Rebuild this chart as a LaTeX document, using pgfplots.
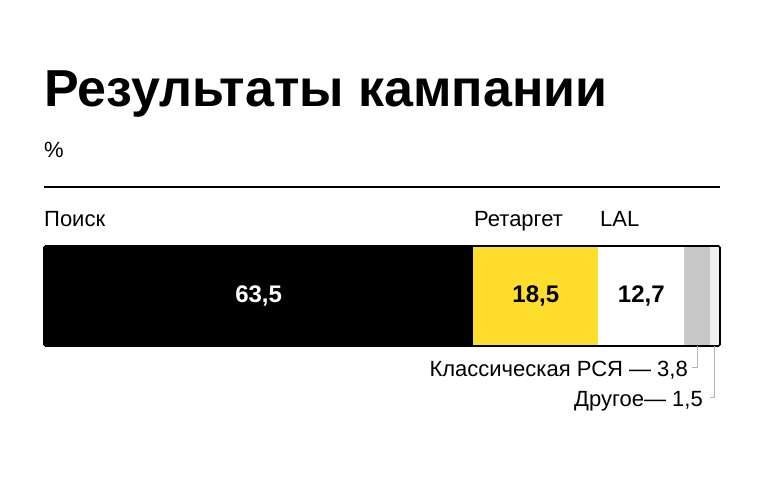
\documentclass[border=0pt]{standalone}
\usepackage{pgfplots}
\pgfplotsset{compat=1.18}
\usepackage{fontspec}
\setmainfont{Liberation Sans}
\newfontfamily\titlefont{Liberation Sans Bold}
\definecolor{ylw}{HTML}{FFDD2D}
\definecolor{gry}{HTML}{C8C8C8}
\definecolor{lgry}{HTML}{F0F0F0}
\definecolor{lead}{HTML}{B4B4B4}
\newcommand{\lbl}{\fontsize{22bp}{26bp}\selectfont}
\newcommand{\val}{\fontsize{24bp}{28bp}\selectfont\bfseries}
\begin{document}
\begin{tikzpicture}[x=1bp,y=1bp]
\path[use as bounding box, fill=white] (0,0) rectangle (764,478);
% title block
\node[anchor=base west, inner sep=0pt] at (44,371) {\titlefont\fontsize{52bp}{60bp}\selectfont Результаты кампании};
\node[anchor=base west, inner sep=0pt] at (44,320) {\lbl\%};
\draw[line width=2bp] (44,291) -- (720,291);
% segment names
\node[anchor=base west, inner sep=0pt] at (44,251) {\lbl Поиск};
\node[anchor=base west, inner sep=0pt] at (474,251) {\lbl Ретаргет};
\node[anchor=base west, inner sep=0pt] at (600,251) {\lbl LAL};
\begin{axis}[
  at={(44bp,132bp)}, anchor=south west,
  scale only axis,
  width=676bp, height=100bp,
  xbar stacked,
  bar width=100bp,
  xmin=0, xmax=100,
  ymin=-0.5, ymax=0.5,
  xtick=\empty, ytick=\empty,
  axis line style={line width=1.6bp, rounded corners=1.5bp},
  axis on top,
  clip=false,
]
\addplot[fill=black, draw=none] coordinates {(63.5,0)};
\addplot[fill=ylw, draw=none] coordinates {(18.5,0)};
\addplot[fill=white, draw=none] coordinates {(12.7,0)};
\addplot[fill=gry, draw=none] coordinates {(3.8,0)};
\addplot[fill=lgry, draw=none] coordinates {(1.5,0)};
\coordinate (v1) at (axis cs:31.75,0);
\coordinate (v2) at (axis cs:72.75,0);
\coordinate (v3) at (axis cs:88.35,0);
\coordinate (l1) at (axis cs:96.6,-0.5);
\coordinate (l2) at (axis cs:99.25,-0.5);
\end{axis}
\node[text=white, font=\val] at (v1) {63,5};
\node[font=\val] at (v2) {18,5};
\node[font=\val] at (v3) {12,7};
% leaders
\draw[lead, line width=1bp] (l1) -- ++(0,-22) -- ++(-5,0);
\draw[lead, line width=1bp] (l2) -- ++(0,-52) -- ++(-5,0);
\node[anchor=base east, inner sep=0pt] at (688,101) {\lbl Классическая РСЯ — 3,8};
\node[anchor=base east, inner sep=0pt] at (703,71) {\lbl Другое— 1,5};
\end{tikzpicture}
\end{document}
